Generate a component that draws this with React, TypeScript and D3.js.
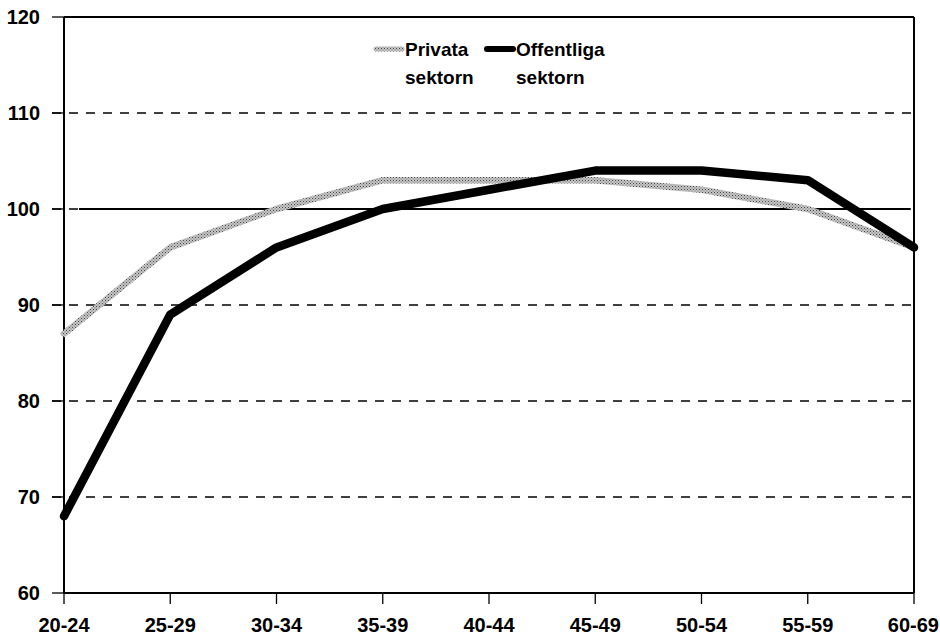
import React from "react";
import * as d3 from "d3";

const categories = ["20-24", "25-29", "30-34", "35-39", "40-44", "45-49", "50-54", "55-59", "60-69"];
const privata = [87, 96, 100, 103, 103, 103, 102, 100, 96];
const offentliga = [68, 89, 96, 100, 102, 104, 104, 103, 96];
const yTicks = [60, 70, 80, 90, 100, 110, 120];
const dashedTicks = [70, 80, 90, 100, 110];
const seriesNames = [["Privata", "sektorn"], ["Offentliga", "sektorn"]];

const W = 940;
const H = 638;
const M = { left: 64, right: 26, top: 17, bottom: 45 };
const FONT = "'Liberation Sans', Arial, sans-serif";

export default function App() {
  const x = d3.scalePoint<string>().domain(categories).range([M.left, W - M.right]);
  const y = d3.scaleLinear().domain([60, 120]).range([H - M.bottom, M.top]);
  const y0 = y(60);
  const line = d3
    .line<number>()
    .x((_, i) => x(categories[i]) as number)
    .y((d) => y(d));
  const x0 = M.left;
  const x1 = W - M.right;

  return (
    <svg
      width={W}
      height={H}
      style={{ position: "absolute", left: 0, top: 0, background: "#fff" }}
      fontFamily={FONT}
      fontWeight="bold"
    >
      <defs>
        <pattern id="stip" width="3" height="3" patternUnits="userSpaceOnUse">
          <rect width="3" height="3" fill="#c4c4c4" />
          <rect x="0" y="0" width="1" height="1" fill="#4a4a4a" />
          <rect x="1.5" y="1.5" width="1" height="1" fill="#707070" />
        </pattern>
      </defs>
      {/* gridlines */}
      {dashedTicks.map((t) => (
        <line
          key={t}
          x1={x0 - 12}
          x2={x1}
          y1={y(t)}
          y2={y(t)}
          stroke="#000"
          strokeWidth={1.3}
          strokeDasharray="9,8"
        />
      ))}
      {/* reference line at 100 */}
      <line x1={x0 + 15} x2={x1 - 4} y1={y(100)} y2={y(100)} stroke="#000" strokeWidth={2} />
      {/* y ticks */}
      {yTicks.map((t) => (
        <g key={t}>
          <line x1={x0 - 12} x2={x0} y1={y(t)} y2={y(t)} stroke="#000" strokeWidth={1.3} />
          <text x={40} y={y(t)} dy="0.36em" textAnchor="end" fontSize={20}>
            {t}
          </text>
        </g>
      ))}
      {/* frame */}
      <line x1={x0} x2={x1} y1={y(120)} y2={y(120)} stroke="#000" strokeWidth={2} />
      <line x1={x0} x2={x0} y1={y(120)} y2={y0} stroke="#000" strokeWidth={2} />
      <line x1={x1} x2={x1} y1={y(120)} y2={y0} stroke="#000" strokeWidth={2} />
      <line x1={x0} x2={x1} y1={y0} y2={y0} stroke="#000" strokeWidth={2} />
      {/* x ticks */}
      {categories.map((c, i) => (
        <g key={c}>
          <line x1={x(c)} x2={x(c)} y1={y0} y2={y0 + 11} stroke="#000" strokeWidth={1.3} />
          <text
            x={i === categories.length - 1 ? W - 1 : x(c)}
            y={y0 + 39}
            textAnchor={i === categories.length - 1 ? "end" : "middle"}
            fontSize={20}
          >
            {c}
          </text>
        </g>
      ))}
      {/* series */}
      <path
        d={line(privata) || ""}
        fill="none"
        stroke="url(#stip)"
        strokeWidth={6.5}
        strokeLinejoin="round"
        strokeLinecap="round"
      />
      <path
        d={line(offentliga) || ""}
        fill="none"
        stroke="#000"
        strokeWidth={8.5}
        strokeLinejoin="round"
        strokeLinecap="round"
      />
      {/* legend */}
      <g fontSize={19}>
        <line x1={376} x2={402} y1={49} y2={49} stroke="url(#stip)" strokeWidth={5} strokeLinecap="round" />
        <text x={405} y={56}>{seriesNames[0][0]}</text>
        <text x={405} y={84}>{seriesNames[0][1]}</text>
        <line x1={487} x2={513} y1={49} y2={49} stroke="#000" strokeWidth={6} strokeLinecap="round" />
        <text x={516} y={56}>{seriesNames[1][0]}</text>
        <text x={516} y={84}>{seriesNames[1][1]}</text>
      </g>
    </svg>
  );
}
